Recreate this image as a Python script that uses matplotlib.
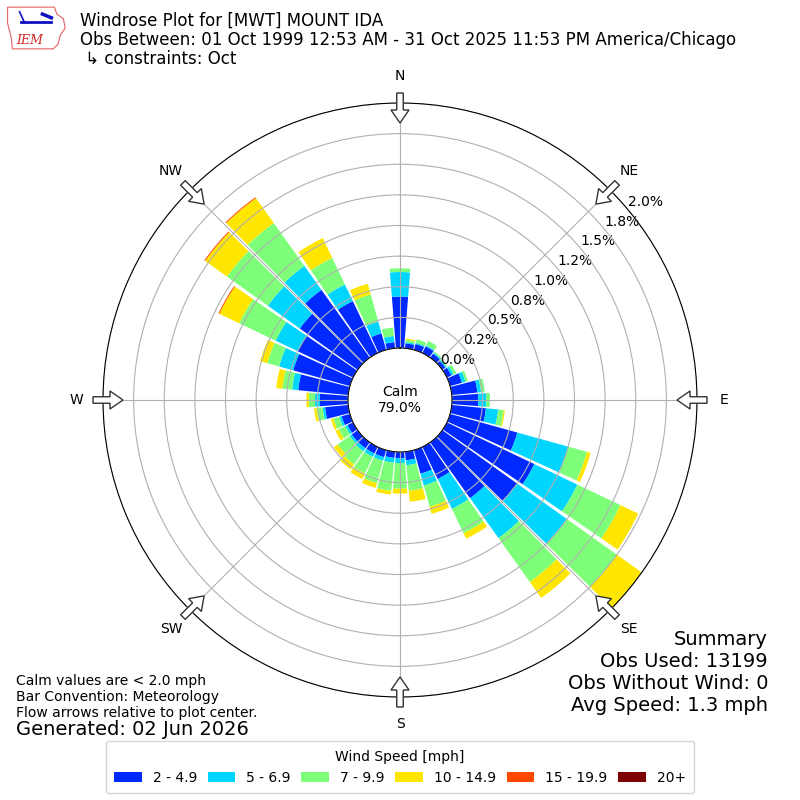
import numpy as np
import matplotlib
matplotlib.use("Agg")
import matplotlib.pyplot as plt
import matplotlib.patches as mpatches
from matplotlib.patches import Polygon

# ---------------- data (percent of all obs) ----------------
directions = np.arange(0, 360, 10)
speed_labels = ["2 - 4.9", "5 - 6.9", "7 - 9.9", "10 - 14.9", "15 - 19.9", "20+"]

spd_2_5 = [0.42, 0.04, 0.05, 0.06, 0.04, 0.03, 0.04, 0.10, 0.21, 0.215,
           0.28, 0.57, 0.79, 0.75, 0.56, 0.29, 0.20, 0.07, 0.05, 0.05,
           0.06, 0.06, 0.06, 0.06, 0.05, 0.07, 0.19, 0.23, 0.41, 0.48,
           0.50, 0.58, 0.68, 0.47, 0.14, 0.05]
spd_5_7 = [0.20, 0.01, 0.01, 0.01, 0.01, 0.01, 0.02, 0.03, 0.03, 0.065,
           0.10, 0.43, 0.39, 0.50, 0.40, 0.27, 0.10, 0.04, 0.04, 0.04,
           0.03, 0.03, 0.03, 0.02, 0.02, 0.02, 0.02, 0.04, 0.05, 0.12,
           0.20, 0.32, 0.24, 0.15, 0.10, 0.05]
spd_7_10 = [0.03, 0.02, 0.03, 0.04, 0.01, 0.01, 0.025, 0.02, 0.03, 0.03,
            0.045, 0.16, 0.39, 0.50, 0.44, 0.22, 0.18, 0.21, 0.21, 0.23,
            0.19, 0.15, 0.13, 0.12, 0.06, 0.05, 0.05, 0.05, 0.08, 0.10,
            0.33, 0.41, 0.43, 0.24, 0.23, 0.07]
spd_10_15 = [0.0, 0.01, 0.0, 0.0, 0.0, 0.0, 0.0, 0.0, 0.0, 0.0,
             0.01, 0.03, 0.16, 0.28, 0.16, 0.05, 0.06, 0.09, 0.04, 0.03,
             0.04, 0.05, 0.05, 0.04, 0.03, 0.02, 0.02, 0.02, 0.05, 0.06,
             0.18, 0.22, 0.25, 0.18, 0.09, 0.0]
spd_15_20 = [0.0] * 30 + [0.008, 0.008, 0.008, 0.0, 0.0, 0.0]
spd_20p = [0.0] * 36

rticks = np.arange(0, 2.01, 0.25)
calm_pct = 79.0

title = ("Windrose Plot for [MWT] MOUNT IDA\n"
         "Obs Between: 01 Oct 1999 12:53 AM - 31 Oct 2025 11:53 PM America/Chicago\n"
         " \u21b3 constraints: Oct")
summary = "Summary\nObs Used: 13199\nObs Without Wind: 0\nAvg Speed: 1.3 mph"
notes = ("Calm values are < 2.0 mph\nBar Convention: Meteorology\n"
         "Flow arrows relative to plot center.")
generated = "Generated: 02 Jun 2026"
compass = ["N", "NE", "E", "SE", "S", "SW", "W", "NW"]

################### config ######################
fig_px = 800
center_px = 400
radius_px = 297
r_origin = 0.4245
bar_width = np.deg2rad(9.0)
rlabel_angle = 50
colors = plt.get_cmap("jet")(np.arange(1, 7) / 6.0)
##################################################

fig = plt.figure(figsize=(8, 8), dpi=100)
pos = (center_px - radius_px) / fig_px
size = 2 * radius_px / fig_px
ax = fig.add_axes([pos, pos, size, size], projection="polar")
ax.set_theta_zero_location("N")
ax.set_theta_direction(-1)

theta = np.deg2rad(directions)
bottom = np.zeros(len(directions))
for vals, color in zip([spd_2_5, spd_5_7, spd_7_10, spd_10_15, spd_15_20, spd_20p],
                       colors):
    vals = np.asarray(vals)
    ax.bar(theta, vals, width=bar_width, bottom=bottom, color=color,
           linewidth=0, zorder=1)
    bottom = bottom + vals

ax.set_ylim(0, 2.0)
ax.set_rorigin(-r_origin)
ax.set_rgrids(rticks, ["%.1f%%" % t for t in rticks], angle=rlabel_angle,
              fontsize=10)
ax.set_thetagrids(range(0, 360, 45), labels=[""] * 8)
ax.grid(True, color="#b0b0b0", linewidth=0.8)

ax.text(0, -r_origin, "Calm\n%.1f%%" % calm_pct, ha="center", va="center",
        fontsize=10)

# compass labels + flow arrows (in figure pixels -> fractions)
for i, lab in enumerate(compass):
    b = np.deg2rad(i * 45)
    lx = (center_px + 324 * np.sin(b)) / fig_px
    ly = (center_px + 324 * np.cos(b)) / fig_px
    fig.text(lx, ly, lab, ha="center", va="center", fontsize=10)
    tx = (center_px + 307 * np.sin(b)) / fig_px
    ty = (center_px + 307 * np.cos(b)) / fig_px
    length = 30.0 / fig_px
    arr = mpatches.FancyArrow(tx, ty, -length * np.sin(b), -length * np.cos(b),
                              width=6.5 / fig_px, head_width=18.0 / fig_px,
                              head_length=13.0 / fig_px,
                              length_includes_head=True,
                              transform=fig.transFigure, facecolor="white",
                              edgecolor="#333333", linewidth=1.0, zorder=5)
    fig.add_artist(arr)

# texts
fig.text(0.1, 0.985, title, ha="left", va="top", fontsize=12, linespacing=1.05)
fig.text(0.96, 0.106, summary, ha="right", va="bottom", fontsize=14,
         multialignment="right")
fig.text(0.02, 0.158, notes, ha="left", va="top", fontsize=10)
fig.text(0.02, 0.076, generated, ha="left", va="bottom", fontsize=14)

# legend
handles = [mpatches.Patch(facecolor=c, edgecolor="none") for c in colors]
fig.legend(handles, speed_labels, loc="lower center",
           bbox_to_anchor=(0.5, 0.0), ncol=6, fontsize=10,
           title="Wind Speed [mph]", title_fontsize=10, columnspacing=0.75,
           borderpad=0.6)

# rough IEM logo
lax = fig.add_axes([0.008, 0.936, 0.075, 0.058])
lax.set_xlim(0, 1)
lax.set_ylim(0, 1)
lax.axis("off")
iowa = [(0.02, 0.95), (0.80, 0.95), (0.84, 0.80), (0.95, 0.70), (0.98, 0.50),
        (0.90, 0.35), (0.86, 0.15), (0.78, 0.05), (0.10, 0.05), (0.08, 0.30),
        (0.02, 0.60)]
lax.add_patch(Polygon(iowa, closed=True, fill=False, edgecolor="#e06060",
                      linewidth=0.8))
lax.plot([0.25, 0.75], [0.62, 0.62], color="#1010c0", linewidth=2)
lax.plot([0.22, 0.30], [0.85, 0.62], color="#1010c0", linewidth=1.2)
lax.plot([0.60, 0.75], [0.80, 0.72], color="#1010c0", linewidth=2.5)
lax.text(0.38, 0.22, "IEM", color="#d02020", fontsize=9, family="serif",
         style="italic", ha="center", va="center")

fig.savefig("out.png", dpi=100)
